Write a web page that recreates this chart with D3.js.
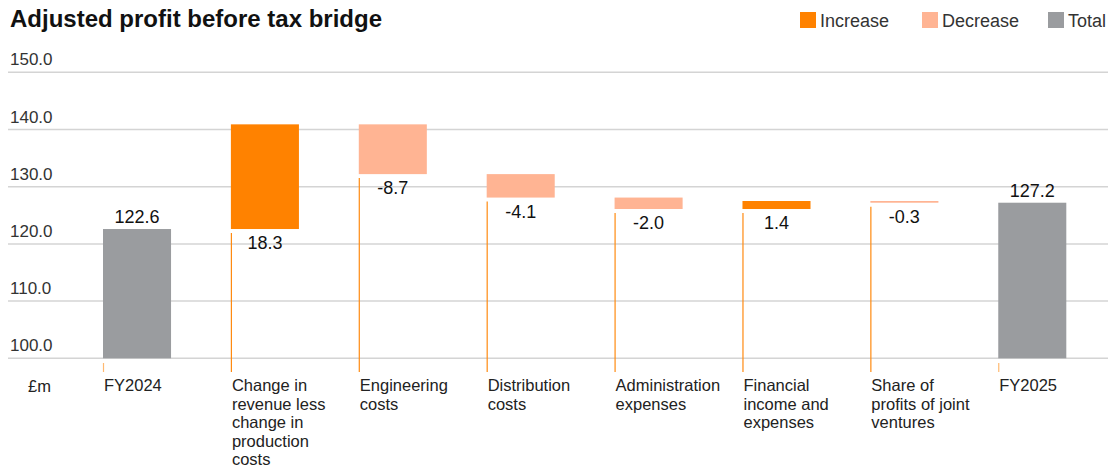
<!DOCTYPE html>
<html>
<head>
<meta charset="UTF-8">
<title>Adjusted profit before tax bridge</title>
<style>
  body { margin: 0; background: #fff; }
  text { font-family: "Liberation Sans", Arial, Helvetica, sans-serif; }
</style>
</head>
<body>
<div id="chart"></div>
<script src="https://d3js.org/d3.v7.min.js"></script>
<script>
// data
var categories = ["FY2024", "Change in\nrevenue less\nchange in\nproduction\ncosts", "Engineering\ncosts",
  "Distribution\ncosts", "Administration\nexpenses", "Financial\nincome and\nexpenses",
  "Share of\nprofits of joint\nventures", "FY2025"];
var values = [122.6, 18.3, -8.7, -4.1, -2.0, 1.4, -0.3, 127.2];
var kinds = ["total", "change", "change", "change", "change", "change", "change", "total"];
var yTicks = [100, 110, 120, 130, 140, 150];
var legendItems = ["Increase", "Decrease", "Total"];

var width = 1108, height = 466;
var colors = { Increase: "#ff8200", Decrease: "#ffb493", Total: "#9a9c9f" };
var fmt = function(v) { return v.toFixed(1); };

var svg = d3.select("#chart").append("svg")
  .attr("width", width).attr("height", height);

// build waterfall rows
var running = 0;
var rows = categories.map(function(c, i) {
  var v = values[i], start, end, type;
  if (kinds[i] === "total") {
    start = 100; end = v; running = v; type = "Total";
  } else {
    start = running; end = running + v; running = end;
    type = v >= 0 ? "Increase" : "Decrease";
  }
  return { cat: c, value: v, lo: Math.min(start, end), hi: Math.max(start, end), type: type };
});

var y = d3.scaleLinear().domain([100, 150]).range([358.3, 72.3]);
var x = d3.scaleBand().domain(categories).range([103, 1066.3]).paddingInner(0.468).paddingOuter(0);

// title
svg.append("text").attr("x", 10).attr("y", 27)
  .attr("font-size", 24).attr("font-weight", "bold").attr("fill", "#111")
  .text("Adjusted profit before tax bridge");

// legend
var legX = [800, 922, 1048];
legendItems.forEach(function(k, i) {
  svg.append("rect").attr("x", legX[i]).attr("y", 12).attr("width", 16).attr("height", 16)
    .attr("fill", colors[k]);
  svg.append("text").attr("x", legX[i] + 20).attr("y", 27)
    .attr("font-size", 18).attr("fill", "#333").text(k);
});

// gridlines + y labels
var grid = svg.append("g");
grid.selectAll("line").data(yTicks).join("line")
  .attr("x1", 8).attr("x2", width)
  .attr("y1", function(d) { return y(d); }).attr("y2", function(d) { return y(d); })
  .attr("stroke", "#d4d4d4").attr("stroke-width", 1.5);
grid.selectAll("text").data(yTicks).join("text")
  .attr("x", 10).attr("y", function(d) { return y(d) - 7; })
  .attr("font-size", 17).attr("fill", "#333")
  .text(function(d) { return fmt(d); });

// bars
svg.append("g").selectAll("rect").data(rows).join("rect")
  .attr("x", function(d) { return x(d.cat); })
  .attr("width", x.bandwidth())
  .attr("y", function(d) { return y(d.hi); })
  .attr("height", function(d) { return Math.max(1.5, y(d.lo) - y(d.hi)); })
  .attr("fill", function(d) { return colors[d.type]; });

// leader lines
svg.append("g").selectAll("line").data(rows).join("line")
  .attr("x1", function(d) { return x(d.cat) + 0.5; })
  .attr("x2", function(d) { return x(d.cat) + 0.5; })
  .attr("y1", function(d) { return d.type === "Total" ? 363 : y(d.lo) + 4; })
  .attr("y2", 372)
  .attr("stroke", "#ff8a10")
  .attr("stroke-opacity", function(d) { return d.type === "Total" ? 0.6 : 1; })
  .attr("stroke-width", 1.2);

// value labels
svg.append("g").selectAll("text").data(rows).join("text")
  .attr("x", function(d) { return x(d.cat) + x.bandwidth() / 2; })
  .attr("y", function(d) { return d.type === "Total" ? y(d.hi) - 6 : y(d.lo) + 20; })
  .attr("text-anchor", "middle").attr("font-size", 18).attr("fill", "#111")
  .text(function(d) { return fmt(d.value); });

// category labels
var catG = svg.append("g");
svg.append("text").attr("x", 28).attr("y", 392).attr("font-size", 16.5).attr("fill", "#222").text("£m");
rows.forEach(function(d) {
  var t = catG.append("text").attr("x", x(d.cat) + 1).attr("y", 391)
    .attr("font-size", 16.5).attr("fill", "#222");
  d.cat.split("\n").forEach(function(line, j) {
    t.append("tspan").attr("x", x(d.cat) + 1).attr("dy", j === 0 ? 0 : 18.6).text(line);
  });
});
</script>
</body>
</html>
